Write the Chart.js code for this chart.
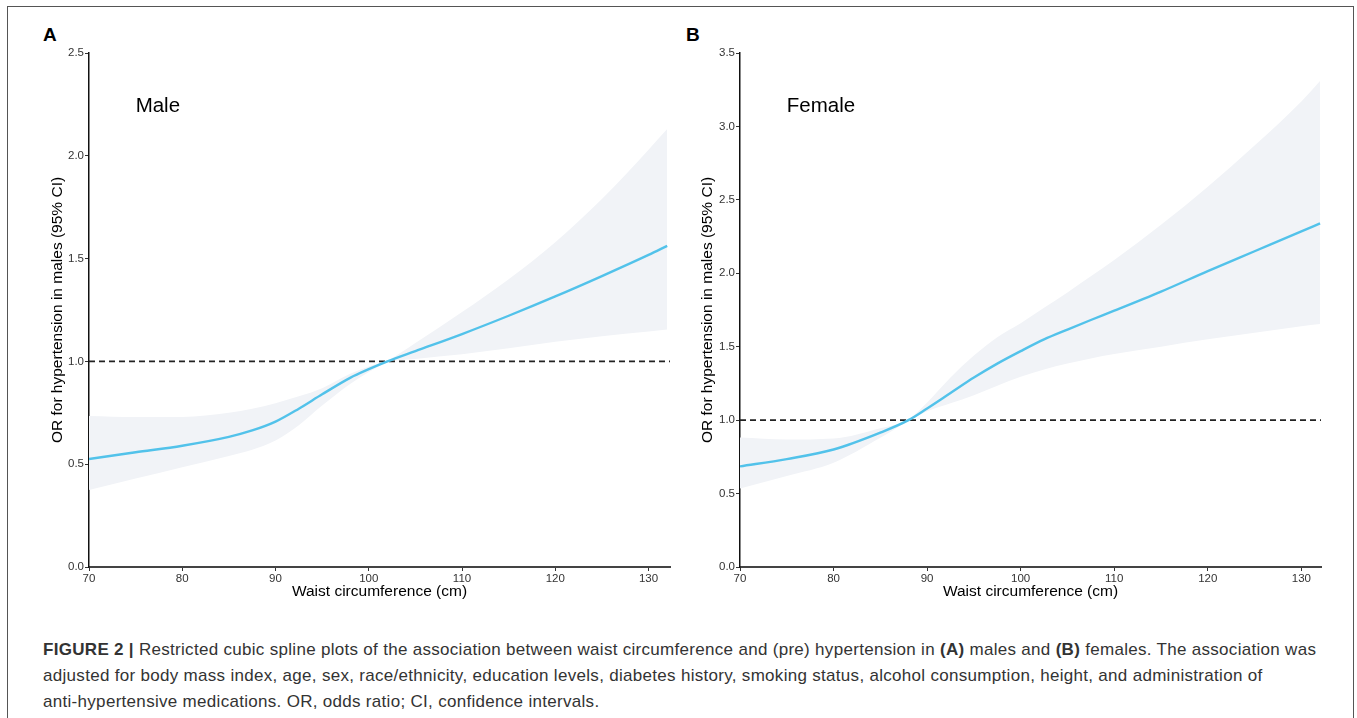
<!DOCTYPE html>
<html>
<head>
<meta charset="utf-8">
<script src="https://cdn.jsdelivr.net/npm/chart.js@4.4.1/dist/chart.umd.min.js"></script>
<style>
  html, body { margin: 0; padding: 0; background: #fff; overflow: hidden; }
  body { width: 1357px; height: 718px; position: relative; font-family: "Liberation Sans", Arial, sans-serif; }
  .marco { position: absolute; left: 7px; top: 6px; width: 1347px; height: 800px; border: 1.5px solid #555; box-sizing: border-box; }
  .letra { position: absolute; top: 24px; font-weight: bold; font-size: 19px; color: #000; }
  canvas { position: absolute; }
  #cA { left: 20px; top: 40px; }
  #cB { left: 670px; top: 40px; }
  .pie { position: absolute; left: 43px; top: 637px; font-size: 17px; letter-spacing: 0.3px; line-height: 26px; color: #333; white-space: nowrap; }
</style>
</head>
<body>
<div class="marco"></div>
<div class="letra" style="left:43px">A</div>
<div class="letra" style="left:686px">B</div>
<canvas id="cA" width="660" height="570"></canvas>
<canvas id="cB" width="680" height="570"></canvas>
<div class="pie"><b>FIGURE 2 |</b> Restricted cubic spline plots of the association between waist circumference and (pre) hypertension in <b>(A)</b> males and <b>(B)</b> females. The association was<br>adjusted for body mass index, age, sex, race/ethnicity, education levels, diabetes history, smoking status, alcohol consumption, height, and administration of<br>anti-hypertensive medications. OR, odds ratio; CI, confidence intervals.</div>
<script>
// datos
const cinturaH = [70, 75, 80, 85, 87.5, 90, 92.5, 95, 98, 100, 102, 105, 110, 115, 120, 125, 130, 132];
const orH = [0.525, 0.558, 0.59, 0.633, 0.664, 0.707, 0.77, 0.84, 0.92, 0.962, 1.0, 1.05, 1.133, 1.222, 1.316, 1.415, 1.518, 1.562];
const altoH = [0.735, 0.73, 0.73, 0.75, 0.77, 0.797, 0.83, 0.87, 0.94, 0.975, 1.005, 1.09, 1.24, 1.40, 1.58, 1.79, 2.03, 2.13];
const bajoH = [0.374, 0.43, 0.485, 0.54, 0.57, 0.615, 0.69, 0.785, 0.89, 0.948, 0.995, 1.012, 1.035, 1.064, 1.095, 1.122, 1.145, 1.155];

const cinturaM = [70, 75, 80, 85, 88, 90, 92.5, 95, 97.5, 100, 102.5, 105, 107.5, 110, 115, 120, 125, 130, 132];
const orM = [0.685, 0.735, 0.80, 0.915, 1.0, 1.08, 1.185, 1.29, 1.385, 1.47, 1.55, 1.617, 1.682, 1.745, 1.875, 2.015, 2.15, 2.285, 2.34];
const altoM = [0.882, 0.868, 0.875, 0.945, 1.005, 1.12, 1.29, 1.44, 1.565, 1.66, 1.765, 1.87, 1.98, 2.09, 2.33, 2.59, 2.87, 3.17, 3.31];
const bajoM = [0.535, 0.62, 0.71, 0.88, 0.995, 1.06, 1.115, 1.17, 1.235, 1.295, 1.345, 1.385, 1.42, 1.45, 1.50, 1.55, 1.595, 1.64, 1.655];

const ticksX = [70, 80, 90, 100, 110, 120, 130];
const ticksYH = [0, 0.5, 1.0, 1.5, 2.0, 2.5];
const ticksYM = [0, 0.5, 1.0, 1.5, 2.0, 2.5, 3.0, 3.5];
const referencia = 1.0;

const fuenteTicks = "'Liberation Sans Narrow', 'Arial Narrow', 'Liberation Sans', Arial, sans-serif";
const fuente = "'Liberation Sans', Arial, sans-serif";

const rotulo = {
  id: "rotulo",
  afterDatasetsDraw(chart, args, opts) {
    const ctx = chart.ctx;
    ctx.save();
    ctx.font = "20.5px " + fuente;
    ctx.fillStyle = "#000";
    ctx.textBaseline = "middle";
    ctx.fillText(opts.texto, chart.scales.x.getPixelForValue(opts.x), chart.scales.y.getPixelForValue(opts.y));
    ctx.restore();
  },
};

function puntos(xs, ys) {
  return xs.map((x, i) => ({ x: x, y: ys[i] }));
}

function crear(canvas, xs, ys, alto, bajo, xMax, yMax, ticksY, derecha, anchoY, texto, yTexto) {
  return new Chart(canvas, {
    type: "line",
    data: {
      datasets: [
        {
          data: puntos(xs, alto),
          borderWidth: 0,
          pointRadius: 0,
          backgroundColor: "rgb(241,243,247)",
          fill: "+1",
          cubicInterpolationMode: "monotone",
          order: 3,
        },
        {
          data: puntos(xs, bajo),
          borderWidth: 0,
          pointRadius: 0,
          fill: false,
          cubicInterpolationMode: "monotone",
          order: 2,
        },
        {
          data: [{ x: 70, y: referencia }, { x: xMax, y: referencia }],
          borderColor: "#222",
          borderWidth: 1.7,
          borderDash: [6, 4],
          pointRadius: 0,
          fill: false,
          order: 1,
        },
        {
          data: puntos(xs, ys),
          borderColor: "#52c2ea",
          borderWidth: 2.4,
          pointRadius: 0,
          fill: false,
          cubicInterpolationMode: "monotone",
          order: 0,
        },
      ],
    },
    options: {
      responsive: false,
      animation: false,
      devicePixelRatio: 1,
      layout: { padding: { top: 13, right: derecha, left: 0, bottom: 0 } },
      plugins: {
        legend: { display: false },
        tooltip: { enabled: false },
        rotulo: { texto: texto, x: 75, y: yTexto },
      },
      scales: {
        x: {
          type: "linear",
          min: 70,
          max: xMax,
          afterBuildTicks: (s) => { s.ticks = ticksX.map((v) => ({ value: v })); },
          afterFit: (s) => { s.height = 43; },
          grid: { drawOnChartArea: false, drawTicks: true, tickLength: 4, tickColor: "#333", tickWidth: 1 },
          border: { display: true, color: "#444", width: 2 },
          ticks: { padding: 1, color: "#333", font: { family: fuenteTicks, size: 11.5 }, maxRotation: 0 },
          title: { display: true, text: "Waist circumference (cm)", color: "#000", font: { family: fuente, size: 15.5 }, padding: { top: 0, bottom: 9 } },
        },
        y: {
          min: 0,
          max: yMax,
          afterBuildTicks: (s) => { s.ticks = ticksY.map((v) => ({ value: v })); },
          afterFit: (s) => { s.width = anchoY; },
          grid: { drawOnChartArea: false, drawTicks: true, tickLength: 4, tickColor: "#333", tickWidth: 1 },
          border: { display: true, color: "#111", width: 1.5 },
          ticks: { padding: 1, color: "#333", font: { family: fuenteTicks, size: 11.5 }, callback: (v) => v.toFixed(1) },
          title: { display: true, text: "OR for hypertension in males (95% CI)", color: "#000", font: { family: fuente, size: 15.5 }, padding: { top: 28, bottom: 0 } },
        },
      },
    },
    plugins: [rotulo],
  });
}

crear(document.getElementById("cA"), cinturaH, orH, altoH, bajoH, 132.3, 2.5, ticksYH, 10, 69, "Male", 2.24);
crear(document.getElementById("cB"), cinturaM, orM, altoM, bajoM, 132.1, 3.5, ticksYM, 29, 70, "Female", 3.14);
</script>
</body>
</html>
